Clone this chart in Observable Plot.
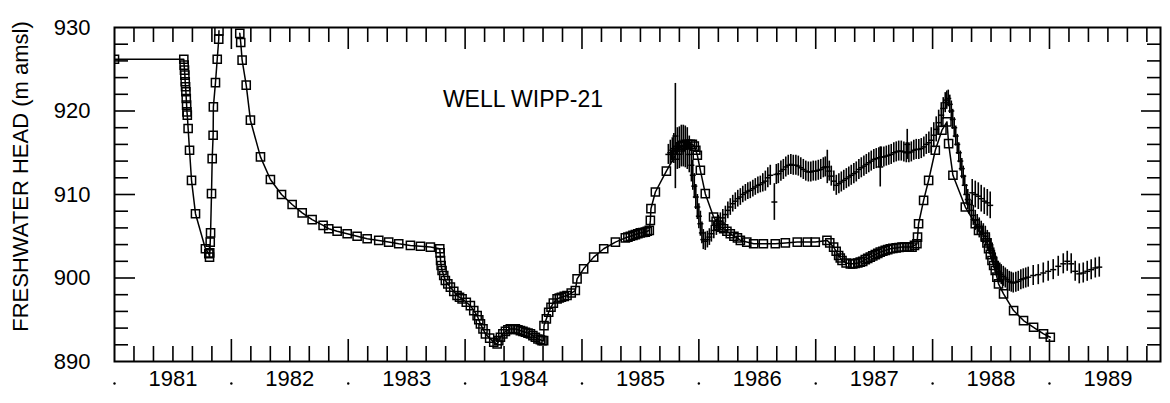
<!DOCTYPE html>
<html><head><meta charset="utf-8">
<script src="https://cdn.jsdelivr.net/npm/d3@7"></script>
<script src="https://cdn.jsdelivr.net/npm/@observablehq/plot@0.6"></script>
<style>
html,body{margin:0;padding:0;background:#fff;}
svg{display:block;}
</style>
</head><body><div id="chart"></div>
<script>
// Calculated freshwater head [year, head] (squares joined by a line); null = off the top of the chart
const calculated = [
[1981.000,926.2],[1981.593,926.2],[1981.596,925.5],[1981.599,924.9],[1981.602,924.3],[1981.605,923.5],
[1981.608,922.9],[1981.611,922.3],[1981.614,921.5],[1981.617,920.7],[1981.620,919.9],[1981.623,919.5],
[1981.630,917.9],[1981.642,915.3],[1981.659,911.7],[1981.693,907.7],[1981.778,903.5],[1981.807,902.9],
[1981.813,902.5],[1981.815,903.0],[1981.819,904.3],[1981.822,905.4],[1981.830,910.1],[1981.836,914.3],
[1981.844,917.1],[1981.846,920.5],[1981.864,923.4],[1981.879,926.2],[1981.892,928.6],[1981.894,929.6],
[1981.980,null],
[1982.072,929.3],[1982.080,928.2],[1982.092,926.1],[1982.127,923.1],[1982.163,918.9],[1982.249,914.5],
[1982.334,911.8],[1982.429,910.0],[1982.520,908.8],[1982.606,907.8],[1982.691,907.0],[1982.785,906.3],
[1982.833,905.9],[1982.905,905.6],[1982.991,905.3],[1983.076,905.0],[1983.162,904.7],[1983.261,904.5],
[1983.346,904.3],[1983.432,904.1],[1983.532,903.9],[1983.618,903.8],[1983.703,903.7],[1983.783,903.5],
[1983.786,903.0],[1983.790,902.1],[1983.795,901.5],[1983.803,900.9],[1983.817,900.3],[1983.831,899.7],
[1983.852,899.3],[1983.874,898.9],[1983.903,898.4],[1983.931,897.9],[1983.952,897.7],[1983.974,897.5],
[1984.010,897.1],[1984.045,896.7],[1984.074,896.1],[1984.103,895.5],[1984.117,895.0],[1984.131,894.5],
[1984.153,893.9],[1984.174,893.3],[1984.210,892.8],[1984.245,892.3],[1984.274,892.1],[1984.288,892.5],
[1984.302,892.9],[1984.323,893.3],[1984.345,893.6],[1984.366,893.8],[1984.387,893.9],[1984.409,893.9],
[1984.430,893.9],[1984.452,893.8],[1984.473,893.7],[1984.495,893.6],[1984.516,893.5],[1984.538,893.4],
[1984.559,893.3],[1984.580,893.1],[1984.601,892.9],[1984.623,892.7],[1984.644,892.6],[1984.658,892.5],
[1984.672,892.5],[1984.675,894.3],[1984.695,895.1],[1984.715,895.9],[1984.735,896.5],[1984.755,897.0],
[1984.787,897.5],[1984.806,897.6],[1984.824,897.7],[1984.848,897.8],[1984.872,897.9],[1984.908,898.2],
[1984.943,898.5],[1984.958,899.9],[1985.014,901.1],[1985.100,902.5],[1985.186,903.5],[1985.286,904.3],
[1985.371,904.8],[1985.393,904.9],[1985.414,905.0],[1985.436,905.1],[1985.457,905.2],[1985.478,905.3],
[1985.499,905.4],[1985.520,905.45],[1985.542,905.5],[1985.559,905.6],[1985.576,905.7],[1985.585,906.9],
[1985.590,908.3],[1985.628,910.3],[1985.722,912.8],[1985.799,914.7],[1985.820,915.3],[1985.841,915.7],
[1985.862,915.9],[1985.884,916.0],[1985.905,916.0],[1985.927,916.0],[1985.944,916.0],[1985.961,915.8],
[1985.974,915.3],[1985.987,914.7],[1986.013,912.9],[1986.055,910.1],[1986.126,907.3],[1986.148,906.8],
[1986.169,906.3],[1986.190,906.1],[1986.212,905.9],[1986.240,905.6],[1986.269,905.3],[1986.300,905.0],
[1986.330,904.8],[1986.355,904.5],[1986.410,904.3],[1986.469,904.1],[1986.552,904.1],[1986.654,904.1],
[1986.740,904.2],[1986.842,904.3],[1986.928,904.3],[1986.996,904.3],[1987.096,904.5],[1987.120,904.2],
[1987.153,903.7],[1987.175,903.2],[1987.196,902.7],[1987.210,902.4],[1987.225,902.1],[1987.260,901.8],
[1987.296,901.7],[1987.317,901.7],[1987.338,901.75],[1987.360,901.8],[1987.381,901.9],[1987.402,902.0],
[1987.424,902.2],[1987.445,902.35],[1987.467,902.5],[1987.488,902.65],[1987.510,902.8],[1987.531,902.95],
[1987.552,903.1],[1987.574,903.2],[1987.595,903.3],[1987.616,903.4],[1987.638,903.5],[1987.660,903.55],
[1987.688,903.6],[1987.713,903.65],[1987.738,903.7],[1987.760,903.7],[1987.781,903.7],[1987.800,903.7],
[1987.824,903.7],[1987.845,903.9],[1987.866,904.1],[1987.871,904.9],[1987.880,906.5],[1987.923,909.3],
[1987.966,911.7],[1988.023,915.3],[1988.080,917.7],[1988.123,918.7],[1988.137,916.1],[1988.174,912.3],
[1988.280,908.5],[1988.365,906.5],[1988.393,905.7],[1988.451,904.9],[1988.465,904.2],[1988.479,903.5],
[1988.494,902.8],[1988.508,902.1],[1988.522,901.5],[1988.536,900.9],[1988.550,900.1],[1988.564,899.3],
[1988.607,898.1],[1988.693,896.1],[1988.778,894.9],[1988.864,894.1],[1988.949,893.3],[1989.007,892.9]];

// Observed freshwater head [year, head, half-height of the uncertainty bar]
const observed = [
[1985.739,914.8,1.2],[1985.756,915.0,1.5],[1985.773,915.3,1.5],[1985.786,915.5,1.8],[1985.799,917.0,6.3],
[1985.816,915.5,2.5],[1985.833,915.6,2.5],[1985.850,915.8,2.5],[1985.867,915.8,2.5],[1985.884,915.7,2.5],
[1985.901,915.5,2.5],[1985.918,914.8,2.2],[1985.936,913.5,2.0],[1985.948,912.3,1.8],[1985.961,911.0,1.5],
[1985.974,909.7,1.5],[1985.987,908.5,1.5],[1986.000,907.4,1.5],[1986.013,906.5,1.5],[1986.026,905.4,1.3],
[1986.038,904.6,1.2],[1986.055,904.4,1.1],[1986.073,904.6,1.0],[1986.090,904.9,1.0],[1986.107,905.3,1.0],
[1986.128,905.7,1.0],[1986.150,906.1,1.0],[1986.167,906.5,1.0],[1986.184,906.8,1.0],[1986.205,907.2,1.0],
[1986.227,907.6,1.0],[1986.248,908.1,1.0],[1986.269,908.5,1.0],[1986.290,908.9,1.0],[1986.312,909.2,1.0],
[1986.333,909.5,1.0],[1986.355,909.7,1.0],[1986.376,910.0,1.0],[1986.398,910.2,1.0],[1986.419,910.4,1.0],
[1986.440,910.5,1.0],[1986.462,910.7,1.0],[1986.483,910.9,1.0],[1986.505,911.1,1.0],[1986.526,911.2,1.0],
[1986.547,911.4,1.1],[1986.569,911.6,1.2],[1986.590,912.0,1.2],[1986.611,912.3,1.2],[1986.646,909.1,2.2],
[1986.663,912.4,1.2],[1986.680,912.5,1.2],[1986.702,912.8,1.2],[1986.723,913.0,1.2],[1986.744,913.3,1.2],
[1986.765,913.5,1.2],[1986.787,913.6,1.2],[1986.808,913.5,1.2],[1986.830,913.5,1.2],[1986.851,913.4,1.2],
[1986.872,913.2,1.2],[1986.894,913.0,1.2],[1986.915,912.8,1.2],[1986.937,912.7,1.2],[1986.958,912.7,1.2],
[1986.979,912.8,1.2],[1987.000,912.8,1.2],[1987.022,912.9,1.2],[1987.043,913.0,1.2],[1987.065,913.2,1.2],
[1987.082,913.3,1.2],[1987.099,913.3,2.0],[1987.116,912.8,1.2],[1987.133,912.2,1.2],[1987.155,911.6,1.2],
[1987.176,911.1,1.2],[1987.198,911.3,1.2],[1987.219,911.5,1.2],[1987.240,911.7,1.2],[1987.262,911.9,1.2],
[1987.283,912.1,1.2],[1987.304,912.3,1.2],[1987.326,912.5,1.2],[1987.347,912.7,1.2],[1987.369,913.0,1.2],
[1987.390,913.2,1.2],[1987.412,913.4,1.2],[1987.433,913.6,1.2],[1987.454,913.8,1.2],[1987.475,914.0,1.2],
[1987.497,914.2,1.2],[1987.518,914.3,1.2],[1987.540,914.4,1.2],[1987.552,913.3,2.4],[1987.561,914.5,1.2],
[1987.583,914.5,1.2],[1987.604,914.6,1.2],[1987.625,914.7,1.2],[1987.646,914.8,1.2],[1987.668,915.0,1.2],
[1987.689,915.1,1.2],[1987.710,915.2,1.2],[1987.732,915.2,1.2],[1987.754,915.1,1.2],[1987.775,915.0,1.2],
[1987.783,916.0,1.8],[1987.797,915.0,1.2],[1987.818,915.1,1.2],[1987.839,915.3,1.2],[1987.860,915.4,1.2],
[1987.882,915.4,1.2],[1987.903,915.5,1.2],[1987.925,915.7,1.2],[1987.946,916.0,1.2],[1987.968,916.2,1.3],
[1987.989,916.5,1.5],[1988.010,917.1,1.5],[1988.031,917.8,1.5],[1988.052,918.6,1.5],[1988.074,919.5,1.5],
[1988.091,920.3,1.3],[1988.108,921.0,1.2],[1988.121,921.3,1.1],[1988.134,921.5,1.0],[1988.147,920.8,1.1],
[1988.160,920.0,1.2],[1988.172,919.0,1.2],[1988.185,918.0,1.2],[1988.198,917.0,1.2],[1988.211,916.0,1.2],
[1988.224,915.0,1.2],[1988.237,914.0,1.2],[1988.250,913.1,1.2],[1988.262,912.2,1.2],[1988.275,911.1,1.2],
[1988.288,910.0,1.2],[1988.301,909.4,1.2],[1988.314,908.8,1.2],[1988.331,908.1,1.2],[1988.348,907.5,1.2],
[1988.365,906.9,1.2],[1988.382,906.4,1.2],[1988.399,906.0,1.2],[1988.416,905.6,1.2],[1988.434,905.3,1.2],
[1988.451,905.0,1.2],[1988.468,904.5,1.2],[1988.485,904.0,1.2],[1988.498,903.5,1.2],[1988.510,903.0,1.2],
[1988.523,902.4,1.2],[1988.536,901.8,1.2],[1988.549,901.3,1.2],[1988.562,900.8,1.2],[1988.575,900.6,1.2],
[1988.587,900.4,1.2],[1988.605,900.2,1.2],[1988.622,900.0,1.2],[1988.639,899.8,1.2],[1988.656,899.6,1.2],
[1988.673,899.5,1.2],[1988.690,899.4,1.2],[1988.712,899.5,1.2],[1988.733,899.6,1.2],[1988.755,899.8,1.2],
[1988.776,899.9,1.2],[1988.797,900.0,1.2],[1988.818,900.1,1.2],[1988.861,900.3,1.2],[1988.904,900.4,1.2],
[1988.947,900.6,1.2],[1988.989,900.8,1.2],[1989.032,901.0,1.2],[1989.075,901.4,1.2],[1989.118,901.7,1.2],
[1989.152,902.0,1.2],[1989.186,901.7,1.2],[1989.220,900.8,1.2],[1989.255,900.5,1.2],[1989.289,900.6,1.2],
[1989.323,900.8,1.2],[1989.357,901.0,1.2],[1989.392,901.2,1.2],[1989.426,901.3,1.2],
[1988.339,910.2,1.6],[1988.365,910.0,1.6],[1988.391,909.8,1.6],[1988.416,909.5,1.6],[1988.442,909.2,1.6],
[1988.468,909.0,1.6],[1988.493,908.7,1.6]];

const yearLabels = ["1981","1982","1983","1984","1985","1986","1987","1988","1989"];
const yTickLabels = [890, 900, 910, 920, 930];
const wellTitle = "WELL WIPP-21";
const yTitle = "FRESHWATER HEAD (m amsl)";

const calc = calculated.map(([x, y]) => ({x, y}));
const obs = observed.map(([x, y, e]) => ({x, y, e}));

const W = 1170, H = 403, mL = 114, mR = 10, mT = 27, mB = 42;
const pw = W - mL - mR, ph = H - mT - mB;

const xTicks = d3.range(0, 54).map(i => ({v: 1981 + i / 6, major: i % 6 === 0}));
const xMinor = xTicks.filter(d => !d.major && d.v > 1981).map(d => d.v);
const xMajor = xTicks.filter(d => d.major && d.v > 1981).map(d => d.v);
const yAll = d3.range(892, 930, 2);
const yMinor = yAll.filter(v => v % 10 !== 0);
const yMajor = yAll.filter(v => v % 10 === 0);
const yearBounds = d3.range(1981, 1990);

const dash = {draw(ctx, size) { const r = Math.sqrt(size / Math.PI); ctx.moveTo(-r, 0); ctx.lineTo(r, 0); }};

const font = "'Liberation Sans', Arial, Helvetica, sans-serif";

const chart = Plot.plot({
  width: W, height: H,
  marginLeft: mL, marginRight: mR, marginTop: mT, marginBottom: mB,
  style: {fontFamily: font, background: "#fff", color: "#000", overflow: "visible"},
  x: {domain: [1981, 1989.95], axis: null},
  y: {domain: [890, 930], axis: null},
  marks: [
    // ticks (inward)
    Plot.ruleX(xMinor, {x: d => d, insetTop: ph - 15, strokeWidth: 1.6}),
    Plot.ruleX(xMajor, {x: d => d, insetTop: ph - 22, strokeWidth: 1.6}),
    Plot.ruleX(xMinor, {x: d => d, insetBottom: ph - 15, strokeWidth: 1.6}),
    Plot.ruleX(xMajor, {x: d => d, insetBottom: ph - 22, strokeWidth: 1.6}),
    Plot.ruleY(yMinor, {y: d => d, insetRight: pw - 14, strokeWidth: 1.6}),
    Plot.ruleY(yMajor, {y: d => d, insetRight: pw - 21, strokeWidth: 1.6}),
    Plot.ruleY(yMinor, {y: d => d, insetLeft: pw - 13, strokeWidth: 1.6}),
    Plot.ruleY(yMajor, {y: d => d, insetLeft: pw - 19, strokeWidth: 1.6}),
    Plot.frame({stroke: "black", strokeWidth: 2}),
    // tick labels
    Plot.text(yearLabels, {x: (d, i) => 1981.5 + i, frameAnchor: "bottom", dy: 24, fontSize: 22, fill: "black"}),
    Plot.dot(yearBounds, {x: d => d, frameAnchor: "bottom", dy: 22, r: 1.2, fill: "black", stroke: null}),
    Plot.text(yTickLabels, {y: d => d, text: d => String(d), frameAnchor: "left", dx: -24, textAnchor: "end", fontSize: 22, fill: "black", ariaLabel: "ylabels"}),
    Plot.text([yTitle], {frameAnchor: "left", dx: -94, dy: -18, rotate: -90, textAnchor: "middle", fontSize: 22, fill: "black", ariaLabel: "ytitle"}),
    Plot.text([wellTitle], {x: 1983.81, y: 921.4, textAnchor: "start", fontSize: 23, fill: "black", ariaLabel: "welltitle"}),
    // observed
    Plot.ruleX(obs, {x: "x", y1: d => d.y - d.e, y2: d => d.y + d.e, stroke: "black", strokeWidth: 1.6}),
    Plot.dot(obs, {x: "x", y: "y", symbol: dash, r: 3, stroke: "black", strokeWidth: 1.5}),
    // calculated
    Plot.line(calc, {x: "x", y: "y", stroke: "black", strokeWidth: 1.5, clip: true}),
    Plot.dot(calc, {x: "x", y: "y", symbol: "square", r: 4.6, stroke: "black", fill: "none", strokeWidth: 1.5, clip: true})
  ]
});
document.getElementById("chart").appendChild(chart);
d3.select(chart).selectAll("g[aria-label=ylabels] text").style("letter-spacing", "2px");
d3.select(chart).selectAll("g[aria-label=ytitle] text").style("letter-spacing", "1px");
d3.select(chart).selectAll("g[aria-label=welltitle] text").style("letter-spacing", "0.6px");
</script>
</body></html>
